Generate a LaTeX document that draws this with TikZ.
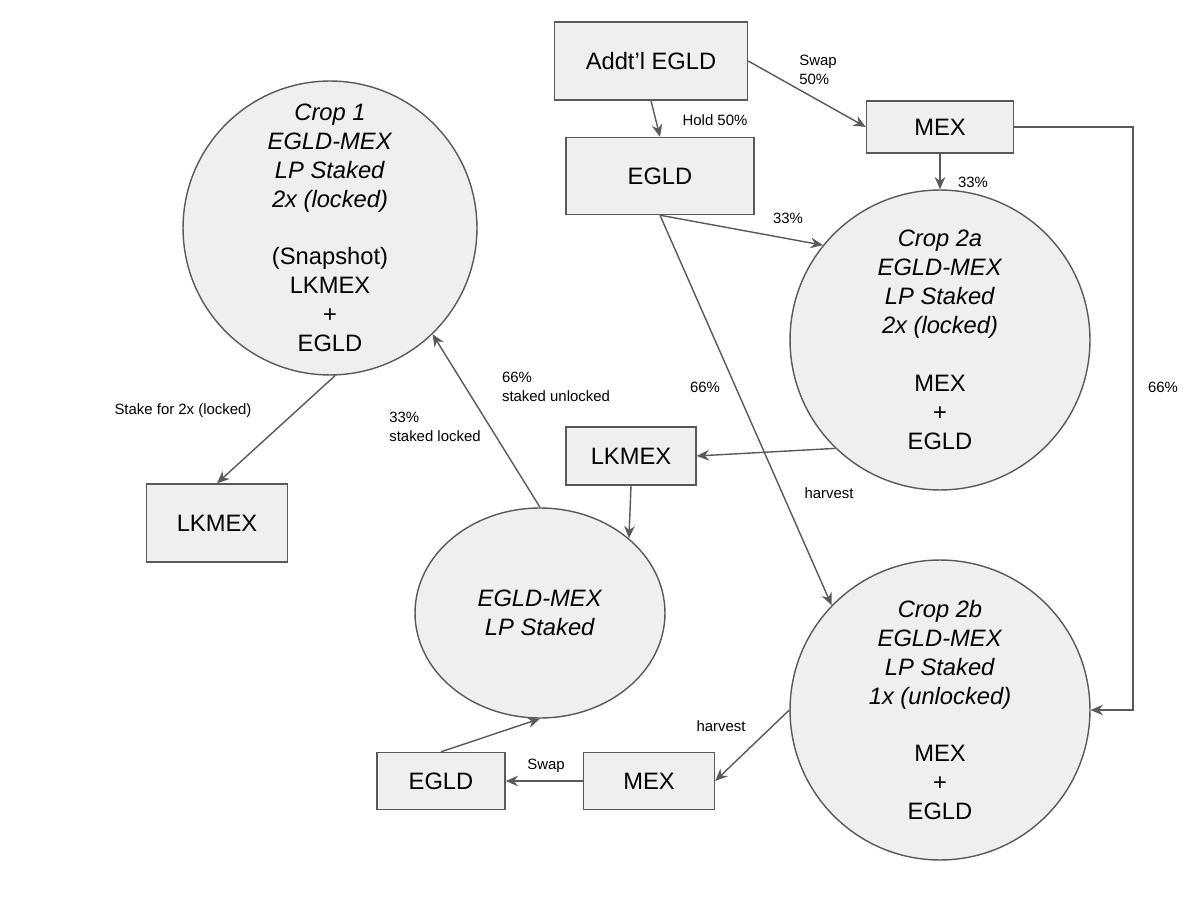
\documentclass[tikz,border=0pt]{standalone}
\usepackage{fontspec}
\setmainfont{Liberation Sans}
\usepackage{xcolor}
\usetikzlibrary{shapes.geometric,arrows.meta}

\definecolor{boxfill}{HTML}{EFEFEF}
\definecolor{boxline}{HTML}{595959}

\tikzset{
  box/.style={draw=boxline, fill=boxfill, line width=0.8pt, font=\fontsize{13.5}{16}\selectfont},
  crop/.style={draw=boxline, fill=boxfill, line width=0.8pt, circle, align=center, font=\fontsize{13.5}{16.5}\selectfont},
  lbl/.style={font=\fontsize{8.5}{10.5}\selectfont, align=left},
  arr/.style={draw=boxline, line width=0.8pt, -{Stealth[length=7pt,width=6pt]}}
}

\begin{document}
\begin{tikzpicture}[x=0.02cm, y=-0.02cm]
      \useasboundingbox (0,0) rectangle (1200,908);

      \node[box, minimum width=3.86cm, minimum height=1.56cm]  (addt)  at (651, 61)    {Addt'l EGLD};
      \node[box, minimum width=2.94cm, minimum height=1.04cm]  (mex)   at (940,127)    {MEX};
      \node[box, minimum width=3.76cm, minimum height=1.54cm]  (egld)  at (660,176)    {EGLD};

      \node[crop, minimum size=5.88cm]  (crop1) at (330,228)  {\textit{Crop 1}\\\textit{EGLD-MEX}\\\textit{LP Staked}\\\textit{2x (locked)}\\[1.2em](Snapshot)\\LKMEX\\+\\EGLD};
      \node[crop, minimum size=6cm]     (crop2a) at (940,340) {\textit{Crop 2a}\\\textit{EGLD-MEX}\\\textit{LP Staked}\\\textit{2x (locked)}\\[1.2em]MEX\\+\\EGLD};
      \node[crop, minimum size=6cm]     (crop2b) at (940,710) {\textit{Crop 2b}\\\textit{EGLD-MEX}\\\textit{LP Staked}\\\textit{1x (unlocked)}\\[1.2em]MEX\\+\\EGLD};

      \node[box, minimum width=2.82cm, minimum height=1.56cm]  (lkleft) at (217,523)   {LKMEX};
      \node[box, minimum width=2.6cm, minimum height=1.16cm]   (lkmid)  at (631,456)   {LKMEX};
      \node[crop, ellipse, minimum width=5cm, minimum height=4.2cm] (lp) at (540,613) {\textit{EGLD-MEX}\\\textit{LP Staked}};

      \node[box, minimum width=2.56cm, minimum height=1.14cm] (egldb) at (441,781)    {EGLD};
      \node[box, minimum width=2.62cm, minimum height=1.14cm] (mexb)  at (649,781)    {MEX};

      \coordinate (bend) at (1133,127);

      \draw[arr] (addt.east) -- (mex.west);
      \draw[arr] (addt.south) -- (egld.north);
      \draw[arr] (mex.south) -- (crop2a.north);
      \draw[arr] (mex.east) -- (bend) |- (crop2b.east);
      \draw[arr] (egld.south) -- (crop2a.141);
      \draw[arr] (egld.south) -- (crop2b.136);
      \draw[arr] (crop2a.226) -- (lkmid.east);
      \draw[arr] (lkmid.south) -- (lp.40);
      \draw[arr] (crop1.-88) -- (lkleft.north);
      \draw[arr] (lp.north) -- (crop1.-46);
      \draw[arr] (crop2b.west) -- (mexb.east);
      \draw[arr] (mexb.west) -- (egldb.east);
      \draw[arr] (egldb.north) -- (lp.south);

      % edge labels
      \node[lbl] at (818, 70)  {Swap\\50\%};
      \node[lbl] at (715,120)  {Hold 50\%};
      \node[lbl] at (973,182)  {33\%};
      \node[lbl] at (788,218)  {33\%};
      \node[lbl] at (705,387)  {66\%};
      \node[lbl] at (1163,387) {66\%};
      \node[lbl] at (829,493)  {harvest};
      \node[lbl] at (183,411)  {Stake for 2x (locked)};
      \node[lbl] at (556,387)  {66\%\\staked unlocked};
      \node[lbl] at (435,427)  {33\%\\staked locked};
      \node[lbl] at (721,726)  {harvest};
      \node[lbl] at (546,766)  {Swap};
\end{tikzpicture}
\end{document}
